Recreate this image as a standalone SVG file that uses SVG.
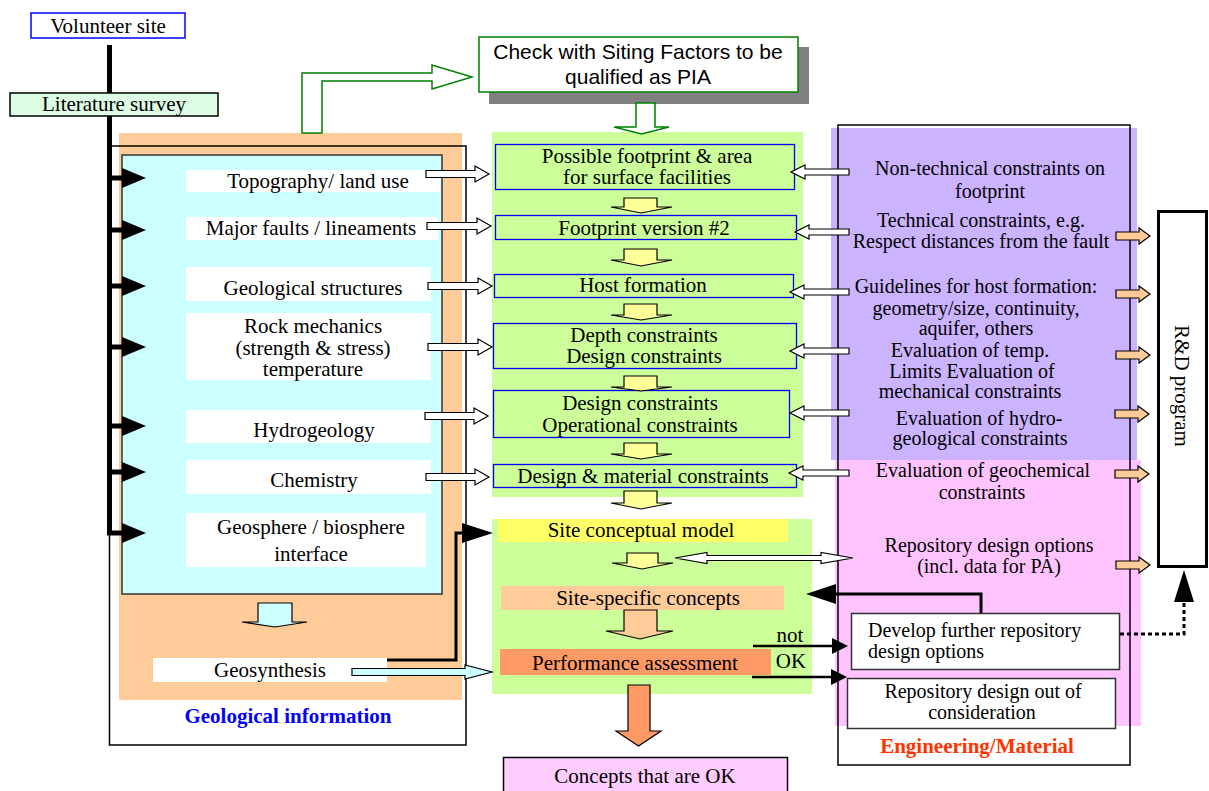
<svg xmlns="http://www.w3.org/2000/svg" width="1209" height="791" viewBox="0 0 1209 791">
  <style>
    .t { font-family: "Liberation Serif", "Times New Roman", serif; font-size: 21px; fill: #000; text-anchor: middle; }
    .r { font-family: "Liberation Serif", "Times New Roman", serif; font-size: 20px; fill: #000; text-anchor: middle; }
    .rs { font-family: "Liberation Serif", "Times New Roman", serif; font-size: 20px; fill: #000; text-anchor: start; }
    .a { font-family: "Liberation Sans", Arial, sans-serif; font-size: 21px; fill: #000; text-anchor: middle; }
    .lbl { fill: #fff; stroke: none; }
    .blue { fill: none; stroke: #0000ff; stroke-width: 1.3; }
    .wa { fill: #fff; stroke: #000; stroke-width: 1.2; }
    .ya { fill: #ffff99; stroke: #000; stroke-width: 1.2; }
    .pa { fill: #ffcc99; stroke: #000; stroke-width: 1.2; }
    .tri { fill: #000; stroke: none; }
    .thick { fill: none; stroke: #000; stroke-width: 5; }
    .conn { fill: none; stroke: #000; stroke-width: 3; }
    .frame { fill: none; stroke: #000; stroke-width: 1.5; }
  </style>

  <!-- background panels -->
  <g id="panels">
    <rect x="119" y="133" width="343" height="567" fill="#ffcc99"/>
    <rect x="492" y="132" width="311" height="365" fill="#ccff99"/>
    <rect x="492" y="519" width="320" height="175" fill="#ccff99"/>
    <rect x="831" y="128" width="306" height="332" fill="#cbb3ff"/>
    <rect x="835" y="460" width="306" height="266" fill="#ffc4ff"/>
  </g>

  <!-- start of the flow -->
  <g id="volunteer-site">
    <rect x="31" y="13" width="154" height="25" fill="#fff" stroke="#0000ff" stroke-width="1.5"/>
    <text class="t" x="108" y="33">Volunteer site</text>
  </g>

  <!-- geological information block -->
  <g id="geological-information">
    <rect class="frame" x="109.5" y="146" width="356.5" height="599"/>
    <rect x="122" y="155" width="320" height="439" fill="#ccffff" stroke="#333" stroke-width="1.5"/>
    <text x="288" y="723" font-family="Liberation Serif, serif" font-size="21" font-weight="bold" fill="#0000ff" text-anchor="middle">Geological information</text>
  </g>

  <!-- main feed line with branch arrows -->
  <g id="feed-line">
    <path class="thick" d="M109.5,45 V533 H124"/>
    <path class="thick" d="M109,178 H124 M109,230 H124 M109,286 H124 M109,347 H124 M109,426 H124 M109,472 H124"/>
    <path class="tri" d="M122,168 L146,178 L122,188 Z M122,220 L146,230 L122,240 Z M122,276 L146,286 L122,296 Z M122,337 L146,347 L122,357 Z M122,416 L146,426 L122,436 Z M122,462 L146,472 L122,482 Z M122,523 L146,533 L122,543 Z"/>
  </g>

  <g id="literature-survey">
    <rect x="10" y="93" width="208" height="23" fill="#dcfce4" stroke="#000" stroke-width="1.5"/>
    <text class="t" x="114" y="111">Literature survey</text>
  </g>

  <g id="topography">
    <rect class="lbl" x="186" y="170" width="254" height="22"/>
    <text class="t" x="318" y="188">Topography/ land use</text>
  </g>
  <g id="faults">
    <rect class="lbl" x="186" y="217" width="252" height="23"/>
    <text class="t" x="311" y="235">Major faults / lineaments</text>
  </g>
  <g id="structures">
    <rect class="lbl" x="186" y="267" width="245" height="34"/>
    <text class="t" x="313" y="295">Geological structures</text>
  </g>
  <g id="rock-mechanics">
    <rect class="lbl" x="186" y="313" width="245" height="67"/>
    <text class="t" x="313" y="333">Rock mechanics</text>
    <text class="t" x="313" y="355">(strength &amp; stress)</text>
    <text class="t" x="313" y="376">temperature</text>
  </g>
  <g id="hydrogeology">
    <rect class="lbl" x="186" y="410" width="245" height="33"/>
    <text class="t" x="314" y="437">Hydrogeology</text>
  </g>
  <g id="chemistry">
    <rect class="lbl" x="186" y="460" width="245" height="34"/>
    <text class="t" x="314" y="487">Chemistry</text>
  </g>
  <g id="geosphere">
    <rect class="lbl" x="186" y="513" width="240" height="54"/>
    <text class="t" x="311" y="534">Geosphere / biosphere</text>
    <text class="t" x="311" y="561">interface</text>
  </g>
  <g id="geosynthesis">
    <rect class="lbl" x="153" y="658" width="234" height="24"/>
    <text class="t" x="270" y="677">Geosynthesis</text>
  </g>

  <!-- siting check -->
  <g id="siting-check">
    <rect x="489" y="47" width="320" height="57" fill="#808080"/>
    <rect x="479" y="37" width="319" height="55" fill="#fff" stroke="#008000" stroke-width="1.5"/>
    <text class="a" x="638" y="59">Check with Siting Factors to be</text>
    <text class="a" x="638" y="84">qualified as PIA</text>
  </g>

  <!-- footprint / constraint chain -->
  <g id="possible-footprint">
    <rect class="blue" x="495.5" y="144.5" width="299" height="45"/>
    <text class="t" x="647" y="163">Possible footprint &amp; area</text>
    <text class="t" x="647" y="184">for surface facilities</text>
  </g>
  <g id="footprint-v2">
    <rect class="blue" x="495.5" y="215.5" width="301" height="24"/>
    <text class="t" x="644" y="235">Footprint version #2</text>
  </g>
  <g id="host-formation">
    <rect class="blue" x="494.5" y="274.5" width="299" height="23"/>
    <text class="t" x="643" y="292">Host formation</text>
  </g>
  <g id="depth-design">
    <rect class="blue" x="493.5" y="323.5" width="303" height="45"/>
    <text class="t" x="644" y="342">Depth constraints</text>
    <text class="t" x="644" y="363">Design constraints</text>
  </g>
  <g id="design-operational">
    <rect class="blue" x="493.5" y="390.5" width="296" height="47"/>
    <text class="t" x="640" y="410">Design constraints</text>
    <text class="t" x="640" y="432">Operational constraints</text>
  </g>
  <g id="design-material">
    <rect class="blue" x="493.5" y="464.5" width="303" height="23"/>
    <text class="t" x="643" y="483">Design &amp; material constraints</text>
  </g>

  <!-- concepts and assessment -->
  <g id="site-conceptual-model">
    <rect x="498" y="519" width="290" height="23" fill="#ffff66"/>
    <text class="t" x="641" y="537">Site conceptual model</text>
  </g>
  <g id="site-specific-concepts">
    <rect x="501" y="586" width="283" height="24" fill="#ffcc99"/>
    <text class="t" x="648" y="605">Site-specific concepts</text>
  </g>
  <g id="performance-assessment">
    <rect x="500" y="649" width="271" height="26" fill="#ff9966"/>
    <text class="t" x="635" y="670">Performance assessment</text>
    <text class="t" x="790" y="642">not</text>
    <text class="t" x="791" y="668">OK</text>
  </g>
  <g id="concepts-ok">
    <rect x="503.5" y="757.5" width="284" height="40" fill="#ffccff" stroke="#000" stroke-width="1.5"/>
    <text class="t" x="645" y="783">Concepts that are OK</text>
  </g>

  <!-- engineering / material block -->
  <g id="engineering-material">
    <rect class="frame" x="838" y="125" width="292" height="640"/>
    <text x="977" y="753" font-family="Liberation Serif, serif" font-size="21" font-weight="bold" fill="#ff3300" text-anchor="middle">Engineering/Material</text>
  </g>
  <g id="eng-footprint">
    <text class="r" x="990" y="175">Non-technical constraints on</text>
    <text class="r" x="990" y="198">footprint</text>
  </g>
  <g id="eng-technical">
    <text class="r" x="981" y="227">Technical constraints, e.g.</text>
    <text class="r" x="981" y="248">Respect distances from the fault</text>
  </g>
  <g id="eng-host">
    <text class="r" x="976" y="293">Guidelines for host formation:</text>
    <text class="r" x="976" y="315">geometry/size, continuity,</text>
    <text class="r" x="976" y="335">aquifer, others</text>
  </g>
  <g id="eng-mechanical">
    <text class="r" x="970" y="357">Evaluation of temp.</text>
    <text class="r" x="972" y="378">Limits Evaluation of</text>
    <text class="r" x="970" y="398">mechanical constraints</text>
  </g>
  <g id="eng-hydro">
    <text class="r" x="979" y="425">Evaluation of hydro-</text>
    <text class="r" x="980" y="445">geological constraints</text>
  </g>
  <g id="eng-geochem">
    <text class="r" x="983" y="477">Evaluation of geochemical</text>
    <text class="r" x="982" y="499">constraints</text>
  </g>
  <g id="eng-options">
    <text class="r" x="989" y="552">Repository design options</text>
    <text class="r" x="989" y="573">(incl. data for PA)</text>
  </g>
  <g id="develop-options">
    <rect x="851.5" y="613.5" width="268" height="56" fill="#fff" stroke="#333" stroke-width="1.5"/>
    <text class="rs" x="868" y="637">Develop further repository</text>
    <text class="rs" x="868" y="658">design options</text>
  </g>
  <g id="out-of-consideration">
    <rect x="847.5" y="678.5" width="268" height="50" fill="#fff" stroke="#333" stroke-width="1.5"/>
    <text class="r" x="983" y="698">Repository design out of</text>
    <text class="r" x="982" y="719">consideration</text>
  </g>

  <g id="rd-program">
    <rect x="1158.5" y="211.5" width="48" height="355" fill="#fff" stroke="#000" stroke-width="3"/>
    <text class="t" transform="translate(1175,386) rotate(90)">R&amp;D program</text>
  </g>

  <!-- connectors -->
  <g id="connectors">
    <!-- L-shaped arrow up to the siting check -->
    <path d="M302,133 V73 H432 V65 L472,77 L432,89 V81 H322 V133 Z" fill="#fff" stroke="#008000" stroke-width="1.5"/>
    <!-- siting check down to footprint -->
    <path d="M636,103 V127 H614 L641.5,134 L669,127 H655 V103 Z" fill="#fff" stroke="#008000" stroke-width="1.5"/>

    <!-- geology to footprint chain -->
    <path class="wa" d="M426,170.5 H475 V166 L489,174 L475,182 V177.5 H426 Z"/>
    <path class="wa" d="M427,222.5 H477 V218 L491,226 L477,234 V229.5 H427 Z"/>
    <path class="wa" d="M428,282.5 H478 V278 L492,286 L478,294 V289.5 H428 Z"/>
    <path class="wa" d="M428,343.5 H478 V339 L492,347 L478,355 V350.5 H428 Z"/>
    <path class="wa" d="M425,412.5 H474 V408 L488,416 L474,424 V419.5 H425 Z"/>
    <path class="wa" d="M426,473.5 H475 V469 L489,477 L475,485 V480.5 H426 Z"/>

    <!-- engineering constraints back to the chain -->
    <path class="wa" d="M849,169 H805 V165 L791,172 L805,179 V175 H849 Z"/>
    <path class="wa" d="M849,229 H809 V225 L795,232 L809,239 V235 H849 Z"/>
    <path class="wa" d="M849,289 H804 V285 L790,292 L804,299 V295 H849 Z"/>
    <path class="wa" d="M849,348 H804 V344 L790,351 L804,358 V354 H849 Z"/>
    <path class="wa" d="M849,410 H804 V406 L790,413 L804,420 V416 H849 Z"/>
    <path class="wa" d="M849,470 H803 V466 L789,473 L803,480 V476 H849 Z"/>

    <!-- engineering items to R&D program -->
    <path class="pa" d="M1116,232 H1139 V228 L1150,236 L1139,244 V240 H1116 Z"/>
    <path class="pa" d="M1116,290 H1139 V286 L1150,294 L1139,302 V298 H1116 Z"/>
    <path class="pa" d="M1116,351 H1139 V347 L1150,355 L1139,363 V359 H1116 Z"/>
    <path class="pa" d="M1115,410 H1138 V406 L1149,414 L1138,422 V418 H1115 Z"/>
    <path class="pa" d="M1115,470 H1138 V466 L1149,474 L1138,482 V478 H1115 Z"/>
    <path class="pa" d="M1116,561 H1139 V557 L1150,565 L1139,573 V569 H1116 Z"/>

    <!-- step arrows down the chain -->
    <path class="ya" d="M624,198 V207 H611 L641,213 L672,207 H657 V198 Z"/>
    <path class="ya" d="M624,249 V260 H611 L641,266 L672,260 H657 V249 Z"/>
    <path class="ya" d="M624,304 V315 H611 L641,320 L672,315 H657 V304 Z"/>
    <path class="ya" d="M624,376 V387 H611 L641,391 L672,387 H657 V376 Z"/>
    <path class="ya" d="M624,443 V454 H611 L641,459 L672,454 H657 V443 Z"/>
    <path class="ya" d="M624,491 V503 H611 L641,509 L672,503 H657 V491 Z"/>
    <path class="ya" d="M627,553 V563 H612 L642,569 L673,563 H658 V553 Z"/>
    <path class="pa" d="M624,610 V631 H606 L640,639 L673,631 H657 V610 Z"/>
    <path d="M628,685 V731 H616 L638.5,746 L661,731 H650 V685 Z" fill="#ff9966" stroke="#000" stroke-width="1.2"/>

    <!-- repository design options exchange -->
    <path class="wa" d="M675,558 L707,552.5 V555.5 H821 V552.5 L853,558 L821,563.5 V560.5 H707 V563.5 Z"/>

    <!-- geology internal flow -->
    <path d="M258,603 V622 H242 L275,627 L307,622 H292 V603 Z" fill="#ccffff" stroke="#000" stroke-width="1.2"/>
    <path d="M352,668.5 H465 V665 L492,672 L465,679 V675.5 H352 Z" fill="#ccffff" stroke="#000" stroke-width="1.2"/>
    <path class="conn" d="M387,660 H456 V533 H464"/>
    <path class="tri" d="M462,523 L493,533 L462,543 Z"/>

    <!-- assessment outcomes -->
    <path fill="none" stroke="#000" stroke-width="2.5" d="M753,646 H834 M752,677 H834"/>
    <path class="tri" d="M832,638 L848,646 L832,654 Z M831,669 L847,677 L831,685 Z"/>

    <!-- further options feed back -->
    <path class="conn" d="M981,613 V594 H834"/>
    <path class="tri" d="M836,584 L806,594 L836,604 Z"/>
    <path fill="none" stroke="#000" stroke-width="3" stroke-dasharray="4 3" d="M1120,634 H1184 V600"/>
    <path class="tri" d="M1174,602 L1184,570 L1194,602 Z"/>
  </g>
</svg>
